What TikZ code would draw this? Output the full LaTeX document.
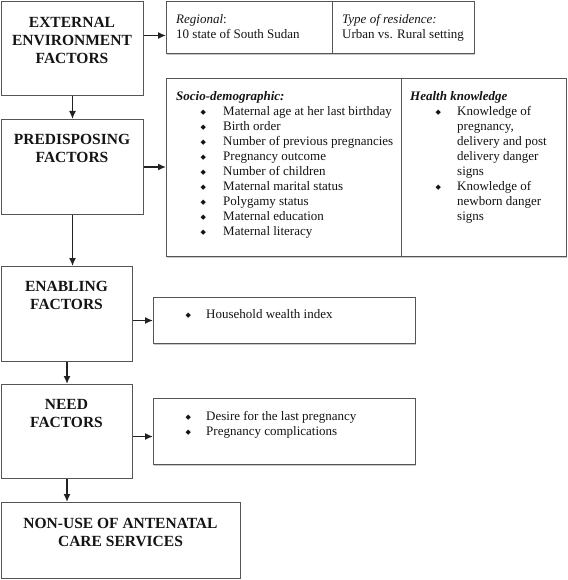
\documentclass[tikz,border=0pt]{standalone}
\usepackage{fontspec}
\setmainfont{Liberation Serif}
\newfontfamily\symfont{DejaVu Sans}
\usetikzlibrary{arrows.meta,calc,shadows}
\definecolor{boxgray}{HTML}{555555}
\definecolor{arrowgray}{HTML}{222222}
\definecolor{inkc}{HTML}{141414}
\newcommand{\bulsym}{{\symfont\fontsize{7}{7}\selectfont ◆}}
\newcommand{\bitem}[2]{\makebox[#2][l]{\hspace{#1}\raisebox{0.8pt}{\bulsym}}}
\begin{document}
\begin{tikzpicture}[x=1pt,y=-1pt,
  box/.style={draw=boxgray, line width=1pt, inner sep=0pt, anchor=north west, fill=white},
  sbox/.style={box, drop shadow={shadow xshift=0.8pt, shadow yshift=-1.6pt, fill=black!22, opacity=1}},
  head/.style={anchor=north, align=center, inner sep=0pt, text=inkc,
    font=\fontsize{15.5}{18}\selectfont\bfseries},
  txt/.style={anchor=north west, align=left, inner sep=0pt, text=inkc,
    font=\fontsize{13}{15}\selectfont},
  arr/.style={draw=arrowgray, line width=1.4pt, -{Latex[length=8pt,width=7pt]}}
]
\useasboundingbox (0,0) rectangle (567,580);

% left column boxes
\node[box, minimum width=142pt, minimum height=94pt] (ext) at (1,1) {};
\node[box, minimum width=142pt, minimum height=95pt] (pre) at (1,119) {};
\node[box, minimum width=131pt, minimum height=95pt] (ena) at (1,266) {};
\node[box, minimum width=131pt, minimum height=94pt] (need) at (1,384) {};
\node[box, minimum width=239pt, minimum height=76pt] (out) at (1,502) {};

% right boxes
\node[sbox, minimum width=166pt, minimum height=52pt] (reg) at (166,1) {};
\node[sbox, minimum width=142pt, minimum height=52pt] (res) at (332,1) {};
\node[sbox, minimum width=235pt, minimum height=178pt] (soc) at (166,78) {};
\node[sbox, minimum width=165pt, minimum height=178pt] (hk) at (401,78) {};
\node[sbox, minimum width=262pt, minimum height=46pt] (hh) at (153,297) {};
\node[sbox, minimum width=262pt, minimum height=66pt] (nd) at (153,398) {};

% headings
\node[head] (extt) at (72,14.4) {\strut EXTERNAL\\ENVIRONMENT\\FACTORS};
\node[head] (pret) at (72,131.4) {\strut PREDISPOSING\\FACTORS};
\node[head] (enat) at (66.5,278.4) {\strut ENABLING\\FACTORS};
\node[head] (needt) at (66.5,396.4) {\strut NEED\\FACTORS};
\node[head] (outt) at (120.5,515.4) {\strut NON-USE OF ANTENATAL\\CARE SERVICES};

% texts
\node[txt] (regt) at (176,13) {\strut\textit{Regional}:\\10 state of South Sudan};
\node[txt] (rest) at (342,13) {\strut\textit{Type of residence:}\\Urban vs. Rural setting};
\node[txt] (soct) at (176,89.5) {\strut\textbf{\textit{Socio-demographic:}}\\
  \bitem{24.3pt}{47pt}Maternal age at her last birthday\\
  \bitem{24.3pt}{47pt}Birth order\\
  \bitem{24.3pt}{47pt}Number of previous pregnancies\\
  \bitem{24.3pt}{47pt}Pregnancy outcome\\
  \bitem{24.3pt}{47pt}Number of children\\
  \bitem{24.3pt}{47pt}Maternal marital status\\
  \bitem{24.3pt}{47pt}Polygamy status\\
  \bitem{24.3pt}{47pt}Maternal education\\
  \bitem{24.3pt}{47pt}Maternal literacy};
\node[txt] (hkt) at (410,89.5) {\strut\textbf{\textit{Health knowledge}}\\
  \bitem{25.3pt}{47pt}Knowledge of\\
  \hspace*{47pt}pregnancy,\\
  \hspace*{47pt}delivery and post\\
  \hspace*{47pt}delivery danger\\
  \hspace*{47pt}signs\\
  \bitem{25.3pt}{47pt}Knowledge of\\
  \hspace*{47pt}newborn danger\\
  \hspace*{47pt}signs};
\node[txt] (hht) at (185.3,307.5) {\strut\bitem{0pt}{20.7pt}Household wealth index};
\node[txt] (ndt) at (185.3,409.5) {\strut\bitem{0pt}{20.7pt}Desire for the last pregnancy\\
  \bitem{0pt}{20.7pt}Pregnancy complications};

% connectors
\draw[arr] ([yshift=13pt]ext.east) coordinate (a1) -- (a1 -| reg.west);
\draw[arr] (ext.south) -- (pre.north);
\draw[arr] (pre.east) -- (pre.east -| soc.west);
\draw[arr] (pre.south) -- (pre.south |- ena.north);
\draw[arr] (hh.west -| ena.east) -- (hh.west);
\draw[arr] (ena.south) -- (need.north);
\draw[arr] ([yshift=-5pt]need.east) coordinate (a2) -- (a2 -| nd.west);
\draw[arr] (need.south) -- (need.south |- out.north);
\end{tikzpicture}
\end{document}
